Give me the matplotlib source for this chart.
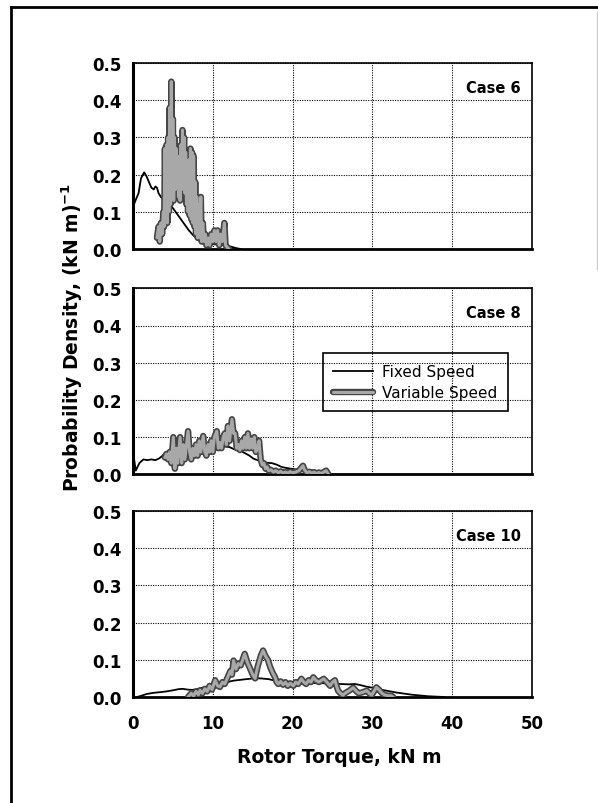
import matplotlib
matplotlib.use("Agg")
import matplotlib.pyplot as plt
import matplotlib.patheffects as pe
from matplotlib.lines import Line2D

# Case 6
c6_fixed_x = [0.0, 0.05, 0.12, 0.4, 0.7, 1.0, 1.4, 1.7, 2.0, 2.3, 2.6, 2.8, 3.0, 3.2, 3.5, 3.8, 4.1,
              4.5, 5.0, 5.5, 6.0, 6.5, 7.0, 7.5, 8.0, 8.5, 9.0, 9.5, 10.0, 10.5, 11.0, 11.5, 12.0,
              12.5, 13.0, 13.5]
c6_fixed_y = [0.0, 0.0, 0.12, 0.135, 0.15, 0.19, 0.206, 0.195, 0.18, 0.165, 0.16, 0.168, 0.165, 0.15,
              0.14, 0.135, 0.125, 0.118, 0.11, 0.095, 0.08, 0.065, 0.05, 0.038, 0.028, 0.022, 0.018,
              0.015, 0.013, 0.012, 0.011, 0.01, 0.008, 0.005, 0.002, 0.0]
c6_var_x = [3.0, 3.2, 3.35, 3.5, 3.65, 3.8, 3.9, 4.0, 4.1, 4.2, 4.3, 4.4, 4.5, 4.6, 4.7, 4.8, 4.9,
            5.0, 5.1, 5.2, 5.3, 5.4, 5.5, 5.6, 5.7, 5.8, 5.9, 6.0, 6.1, 6.2, 6.3, 6.4, 6.5, 6.6,
            6.7, 6.8, 6.9, 7.0, 7.1, 7.2, 7.3, 7.4, 7.5, 7.6, 7.7, 7.8, 7.9, 8.0, 8.1, 8.2, 8.35,
            8.5, 8.6, 8.75, 8.9, 9.05, 9.2, 9.4, 9.6, 9.8, 10.0, 10.2, 10.4, 10.6, 10.8, 11.0,
            11.2, 11.45, 11.6, 11.8, 12.0]
c6_var_y = [0.03, 0.06, 0.02, 0.07, 0.04, 0.10, 0.06, 0.27, 0.08, 0.28, 0.07, 0.30, 0.10, 0.38,
            0.12, 0.45, 0.14, 0.35, 0.13, 0.30, 0.16, 0.27, 0.18, 0.25, 0.14, 0.24, 0.13, 0.28,
            0.16, 0.32, 0.17, 0.30, 0.15, 0.26, 0.12, 0.22, 0.10, 0.24, 0.09, 0.27, 0.08, 0.26,
            0.07, 0.25, 0.06, 0.18, 0.04, 0.14, 0.03, 0.12, 0.03, 0.14, 0.02, 0.07, 0.02, 0.04,
            0.01, 0.03, 0.01, 0.04, 0.02, 0.05, 0.02, 0.05, 0.01, 0.04, 0.02, 0.07, 0.01, 0.005,
            0.0]

# Case 8
c8_fixed_x = [0.0, 0.35, 0.8, 1.3, 1.8, 2.3, 2.8, 3.3, 3.7, 4.0, 4.5, 5.0, 5.6, 6.2, 6.8, 7.4, 8.0,
              8.6, 9.2, 9.8, 10.4, 11.0, 11.6, 12.1, 12.6, 13.1, 13.6, 14.1, 14.6, 15.1, 15.6, 16.2,
              16.8, 17.4, 18.0, 18.6, 19.2, 19.8, 20.4, 21.0, 21.6, 22.4, 23.2, 24.0, 25.0]
c8_fixed_y = [0.06, 0.01, 0.03, 0.04, 0.038, 0.04, 0.038, 0.043, 0.05, 0.058, 0.054, 0.05, 0.05,
              0.052, 0.05, 0.054, 0.056, 0.056, 0.058, 0.062, 0.066, 0.07, 0.075, 0.073, 0.068,
              0.066, 0.062, 0.056, 0.05, 0.042, 0.038, 0.033, 0.031, 0.03, 0.026, 0.02, 0.017,
              0.015, 0.013, 0.012, 0.01, 0.007, 0.004, 0.002, 0.0]
c8_var_x = [4.0, 4.2, 4.4, 4.6, 4.8, 5.05, 5.25, 5.45, 5.6, 5.9, 6.1, 6.3, 6.5, 6.9, 7.1, 7.3, 7.5,
            7.7, 7.9, 8.1, 8.3, 8.5, 8.8, 9.0, 9.2, 9.4, 9.6, 9.8, 10.0, 10.2, 10.5, 10.7, 10.9,
            11.1, 11.3, 11.5, 11.7, 11.9, 12.1, 12.4, 12.6, 12.8, 13.0, 13.2, 13.4, 13.6, 13.8,
            14.0, 14.2, 14.4, 14.6, 14.8, 15.0, 15.2, 15.4, 15.6, 15.8, 16.0, 16.2, 16.4, 16.6,
            16.8, 17.0, 17.3, 17.6, 17.9, 18.2, 18.5, 18.8, 19.1, 19.4, 19.7, 20.0, 20.4, 20.8,
            21.1, 21.3, 21.5, 21.8, 22.1, 22.4, 22.7, 23.0, 23.3, 23.6, 23.9, 24.2, 24.5]
c8_var_y = [0.045, 0.055, 0.04, 0.06, 0.03, 0.10, 0.015, 0.07, 0.03, 0.10, 0.03, 0.08, 0.04, 0.116,
            0.06, 0.04, 0.07, 0.05, 0.08, 0.05, 0.09, 0.06, 0.103, 0.06, 0.05, 0.08, 0.06, 0.09,
            0.06, 0.10, 0.116, 0.07, 0.085, 0.07, 0.10, 0.11, 0.08, 0.13, 0.09, 0.148, 0.11, 0.11,
            0.07, 0.08, 0.065, 0.09, 0.07, 0.10, 0.07, 0.11, 0.07, 0.095, 0.07, 0.10, 0.06, 0.07,
            0.09, 0.04, 0.025, 0.03, 0.015, 0.02, 0.01, 0.012, 0.006, 0.01, 0.004, 0.008, 0.003,
            0.006, 0.003, 0.007, 0.004, 0.006, 0.01, 0.018, 0.023, 0.012, 0.004, 0.007, 0.003,
            0.006, 0.002, 0.005, 0.002, 0.006, 0.01, 0.0]

# Case 10
c10_fixed_x = [0.5, 1.0, 1.7, 2.5, 3.4, 4.2, 5.0, 5.7, 6.2, 6.8, 7.4, 8.0, 8.7, 9.5, 10.3, 11.0,
               11.8, 12.6, 13.4, 14.2, 15.1, 16.0, 17.0, 17.8, 18.5, 19.3, 20.2, 21.0, 22.0, 23.0,
               24.0, 25.0, 26.0, 27.0, 27.8, 28.5, 29.2, 30.0, 31.0, 32.0, 33.0, 34.0, 35.0, 36.0,
               37.0, 38.0, 39.0]
c10_fixed_y = [0.0, 0.003, 0.008, 0.011, 0.013, 0.015, 0.018, 0.021, 0.022, 0.02, 0.019, 0.021,
               0.025, 0.029, 0.033, 0.036, 0.04, 0.044, 0.046, 0.048, 0.05, 0.05, 0.048, 0.044,
               0.04, 0.04, 0.041, 0.04, 0.038, 0.037, 0.037, 0.036, 0.035, 0.034, 0.035, 0.032,
               0.028, 0.025, 0.02, 0.016, 0.012, 0.009, 0.006, 0.004, 0.002, 0.001, 0.0]
c10_var_x = [6.9, 7.3, 7.6, 7.9, 8.2, 8.4, 8.7, 9.0, 9.3, 9.6, 9.9, 10.3, 10.6, 10.9, 11.2, 11.5,
             11.8, 12.2, 12.4, 12.6, 12.9, 13.2, 13.5, 14.0, 14.3, 14.6, 15.0, 15.3, 15.6, 16.0,
             16.3, 16.6, 16.9, 17.2, 17.5, 17.8, 18.0, 18.2, 18.5, 18.8, 19.1, 19.4, 19.7, 20.1,
             20.4, 20.7, 21.1, 21.4, 21.7, 22.0, 22.3, 22.6, 22.9, 23.3, 23.6, 23.9, 24.3, 24.7,
             25.0, 25.3, 25.5, 25.7, 26.0, 26.3, 26.7, 27.1, 27.6, 28.0, 28.3, 28.8, 29.3, 29.6,
             29.9, 30.2, 30.5, 30.8, 31.2, 31.5, 32.0, 32.3, 32.6]
c10_var_y = [0.0, 0.01, 0.003, 0.015, 0.006, 0.018, 0.01, 0.022, 0.015, 0.03, 0.02, 0.045, 0.03,
             0.027, 0.04, 0.035, 0.05, 0.07, 0.06, 0.098, 0.075, 0.09, 0.085, 0.116, 0.095, 0.08,
             0.06, 0.05, 0.08, 0.11, 0.125, 0.11, 0.10, 0.08, 0.065, 0.053, 0.04, 0.035, 0.042,
             0.033, 0.04, 0.03, 0.037, 0.03, 0.04, 0.035, 0.049, 0.04, 0.035, 0.045, 0.04, 0.053,
             0.045, 0.04, 0.045, 0.049, 0.04, 0.03, 0.04, 0.045, 0.03, 0.017, 0.01, 0.005, 0.012,
             0.017, 0.025, 0.015, 0.01, 0.013, 0.017, 0.01, 0.005, 0.015, 0.026, 0.02, 0.01,
             0.006, 0.003, 0.004, 0.0]

cases = ["Case 6", "Case 8", "Case 10"]
fixed = [(c6_fixed_x, c6_fixed_y), (c8_fixed_x, c8_fixed_y), (c10_fixed_x, c10_fixed_y)]
variable = [(c6_var_x, c6_var_y), (c8_var_x, c8_var_y), (c10_var_x, c10_var_y)]
y_ticks = [0.0, 0.1, 0.2, 0.3, 0.4, 0.5]
x_ticks = [0, 10, 20, 30, 40, 50]

fig = plt.figure(figsize=(5.98, 8.04), dpi=100)

# frame around the figure
fig.add_artist(Line2D([10.5 / 598, 10.5 / 598], [0, 1 - 8 / 804], color="black", lw=2))
fig.add_artist(Line2D([10.5 / 598, 1], [1 - 8 / 804, 1 - 8 / 804], color="black", lw=2))
fig.add_artist(Line2D([597 / 598, 597 / 598], [1 - 13 / 804, 1 - 270 / 804], color="#cccccc", lw=1))

left = 133 / 598
width = (532 - 133) / 598
height = 186 / 804
bottoms = [1 - 250 / 804, 1 - 475.3 / 804, 1 - 698 / 804]

var_effects = [pe.Stroke(linewidth=4.6, foreground="#454545"), pe.Normal()]

for i in range(3):
    ax = fig.add_axes([left, bottoms[i], width, height])
    fx, fy = fixed[i]
    vx, vy = variable[i]
    ax.plot(fx, fy, color="black", lw=1.3, label="Fixed Speed", zorder=3)
    ax.plot(vx, vy, color="#a8a8a8", lw=2.2, label="Variable Speed", zorder=4,
            path_effects=var_effects, solid_joinstyle="round", solid_capstyle="round")
    ax.set_xlim(0, 50)
    ax.set_ylim(0, 0.5)
    ax.set_yticks(y_ticks)
    ax.set_yticklabels([f"{v:.1f}" for v in y_ticks])
    ax.set_xticks(x_ticks)
    ax.grid(True, color="black", linestyle=(0, (1, 1.2)), lw=0.8)
    ax.tick_params(length=0, labelsize=12, pad=8)
    for lab in ax.get_yticklabels() + ax.get_xticklabels():
        lab.set_fontweight("bold")
    ax.spines["left"].set_linewidth(2.2)
    ax.spines["bottom"].set_linewidth(2.0)
    ax.spines["top"].set_linewidth(1.2)
    ax.spines["right"].set_linewidth(1.2)
    ax.text(0.972, 0.87, cases[i], transform=ax.transAxes, ha="right", va="center",
            fontsize=10.5, fontweight="bold")
    if i < 2:
        ax.tick_params(labelbottom=False)
    else:
        ax.tick_params(axis="x", pad=12)
    if i == 1:
        leg = ax.legend(loc="upper left", bbox_to_anchor=(0.475, 0.651), borderaxespad=0,
                        fontsize=11, handlelength=2.6, handletextpad=0.6, labelspacing=0.4,
                        borderpad=0.7, fancybox=False, framealpha=1, facecolor="none",
                        edgecolor="black")
        leg.get_frame().set_linewidth(1.2)

fig.text(339 / 598, 1 - 758 / 804, "Rotor Torque, kN m", ha="center", va="center",
         fontsize=13.5, fontweight="bold")
fig.text(72 / 598, 1 - 337 / 804, r"Probability Density, (kN m)$^{\mathbf{-1}}$", ha="center",
         va="center", rotation=90, fontsize=13.5, fontweight="bold")

fig.savefig("out.png", dpi=100)
